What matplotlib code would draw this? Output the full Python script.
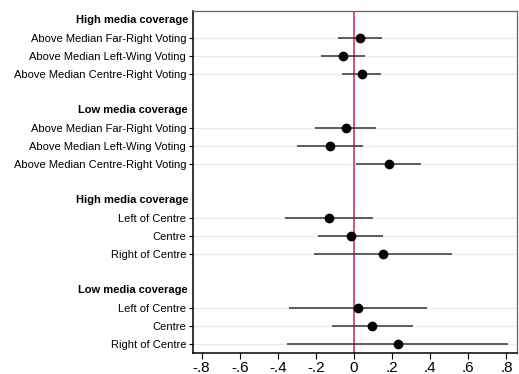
import numpy as np
import matplotlib.pyplot as plt

plt.rcParams['font.family'] = ['Liberation Sans', 'DejaVu Sans']

# rows top to bottom, grouped under a header
groups = ["High media coverage", "Low media coverage",
          "High media coverage", "Low media coverage"]
labels = [
    ["Above Median Far-Right Voting", "Above Median Left-Wing Voting",
     "Above Median Centre-Right Voting"],
    ["Above Median Far-Right Voting", "Above Median Left-Wing Voting",
     "Above Median Centre-Right Voting"],
    ["Left of Centre", "Centre", "Right of Centre"],
    ["Left of Centre", "Centre", "Right of Centre"],
]
coef = [
    [0.030, -0.058, 0.040],
    [-0.044, -0.126, 0.182],
    [-0.129, -0.018, 0.150],
    [0.021, 0.096, 0.229],
]
lo = [
    [-0.086, -0.173, -0.061],
    [-0.205, -0.301, 0.012],
    [-0.360, -0.187, -0.212],
    [-0.343, -0.117, -0.352],
]
hi = [
    [0.145, 0.058, 0.142],
    [0.115, 0.045, 0.350],
    [0.098, 0.154, 0.512],
    [0.381, 0.310, 0.810],
]
xticks = [-0.8, -0.6, -0.4, -0.2, 0, 0.2, 0.4, 0.6, 0.8]
xticklabels = ["-.8", "-.6", "-.4", "-.2", "0", ".2", ".4", ".6", ".8"]

fig = plt.figure(figsize=(5.19, 3.74), dpi=100)
ax = fig.add_axes([0.372, 0.056, 0.624, 0.915])

# positions: header, 3 rows, blank gap, repeated
pos = 0
header_pos, row_pos, row_lab = [], [], []
xs, ls, hs = [], [], []
for g in range(len(groups)):
    header_pos.append(pos)
    pos += 1
    for i in range(3):
        row_pos.append(pos)
        row_lab.append(labels[g][i])
        xs.append(coef[g][i]); ls.append(lo[g][i]); hs.append(hi[g][i])
        pos += 1
    pos += 1
n = pos - 1

for y in row_pos:
    ax.axhline(y, color="#e4edf1", lw=1, zorder=0)

ax.axvline(0, color="#d2456c", lw=1.3, zorder=1)
ax.hlines(row_pos, ls, hs, color="#333333", lw=1.1, zorder=2)
ax.plot(xs, row_pos, "o", color="black", ms=6, zorder=3)

ax.set_ylim(n - 0.5, -0.5)
ax.set_xlim(-0.845, 0.855)
ax.set_yticks(row_pos)
ax.set_yticklabels(row_lab, fontsize=8)
ax.tick_params(axis="y", length=3, width=0.8, pad=2)
for hp, g in zip(header_pos, groups):
    ax.text(-0.0154, hp, g, transform=ax.get_yaxis_transform(),
            ha="right", va="center", fontsize=8, fontweight="bold")

ax.set_xticks(xticks)
ax.set_xticklabels(xticklabels, fontsize=11)
ax.tick_params(axis="x", length=4, width=0.8, pad=2)

for s in ["left", "bottom"]:
    ax.spines[s].set_color("black")
    ax.spines[s].set_linewidth(1.1)
for s in ["top", "right"]:
    ax.spines[s].set_color("#666666")
    ax.spines[s].set_linewidth(0.9)

fig.savefig("out.png", dpi=100)
